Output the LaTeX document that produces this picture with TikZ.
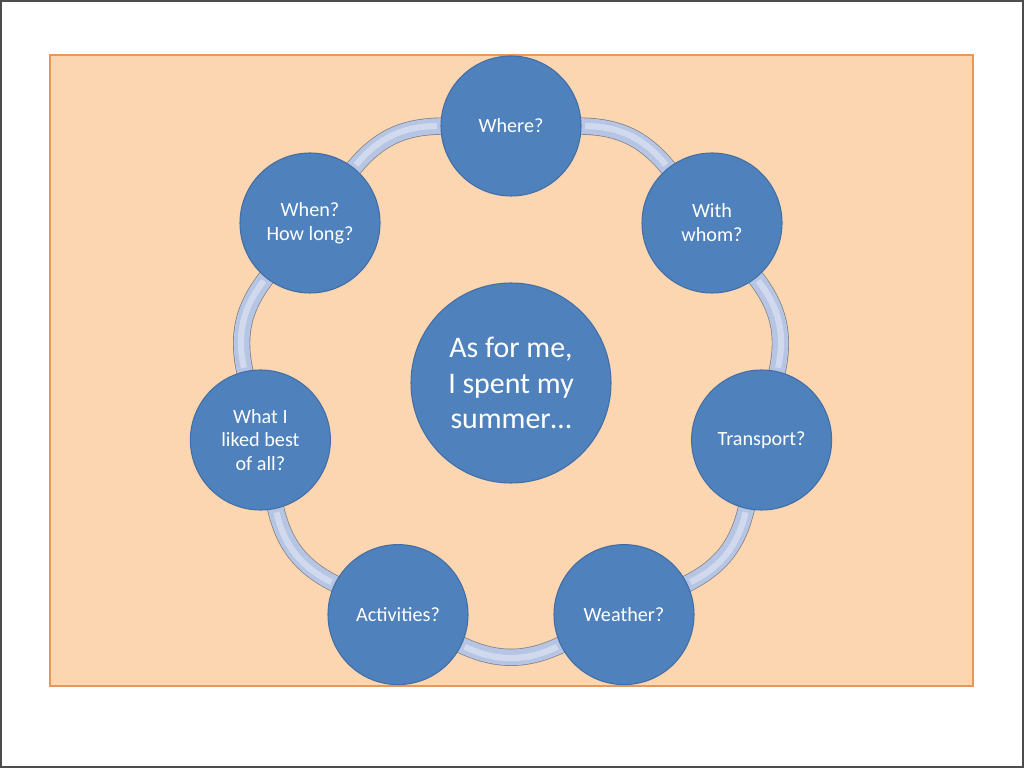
\documentclass[tikz,border=0pt]{standalone}
\usepackage{fontspec}
\setmainfont{Carlito}
\usepackage{xcolor}
\usepackage{tikz}
\usetikzlibrary{arrows.meta,positioning,calc}

\definecolor{peach}{RGB}{251,214,176}
\definecolor{peachedge}{RGB}{232,150,90}
\definecolor{topicblue}{RGB}{79,129,189}
\definecolor{topicrim}{RGB}{66,110,165}
\definecolor{linkfill}{RGB}{182,197,227}
\definecolor{linkedge}{RGB}{125,125,130}

\pgfdeclarelayer{sheet}
\pgfdeclarelayer{links}
\pgfsetlayers{sheet,links,main}

\begin{document}
\begin{tikzpicture}[
  x=0.02cm, y=0.02cm,
  topic/.style={circle, fill=topicblue, draw=topicrim, line width=0.6pt,
    minimum size=140*0.02cm, inner sep=0pt, text=white, align=center,
    font=\fontsize{11.5}{13.6}\selectfont},
  hub/.style={topic, minimum size=200*0.02cm,
    font=\fontsize{17}{20}\selectfont},
  link/.style={draw=linkedge, line width=0.4pt, double=linkfill,
    double distance=9pt, shorten >=-2pt, shorten <=-2pt,
    postaction={draw=white!35!linkfill, line width=3.5pt, double=none,
      shorten >=2pt, shorten <=2pt}}
]
  \useasboundingbox (0,0) rectangle (1024,768);
  \begin{pgfonlayer}{sheet}
    \draw[black!70, line width=1pt] (1,1) rectangle (1023,767);
    \draw[peachedge, fill=peach, line width=0.6pt] (50,82) rectangle (973,713);
  \end{pgfonlayer}

  \node[hub] (C) at (511,385) {As for me,\\I spent my\\summer\dots};

  \node[topic] (where)  at (511,642)   {Where?};
  \node[topic] (whom)   at (712,545)   {With\\whom?};
  \node[topic] (trans)  at (761.6,328) {Transport?};
  \node[topic] (wthr)   at (624,153.4) {Weather?};
  \node[topic] (act)    at (398,153.4) {Activities?};
  \node[topic] (liked)  at (260.4,328) {What I\\liked best\\of all?};
  \node[topic] (when)   at (310,545)   {When?\\How long?};

  % ring of links, clockwise
  \begin{pgfonlayer}{links}
    \draw[link] (where) to[bend left=25.7] (whom);
    \draw[link] (whom)  to[bend left=25.7] (trans);
    \draw[link] (trans) to[bend left=25.7] (wthr);
    \draw[link] (wthr)  to[bend left=25.7] (act);
    \draw[link] (act)   to[bend left=25.7] (liked);
    \draw[link] (liked) to[bend left=25.7] (when);
    \draw[link] (when)  to[bend left=25.7] (where);
  \end{pgfonlayer}
\end{tikzpicture}
\end{document}
